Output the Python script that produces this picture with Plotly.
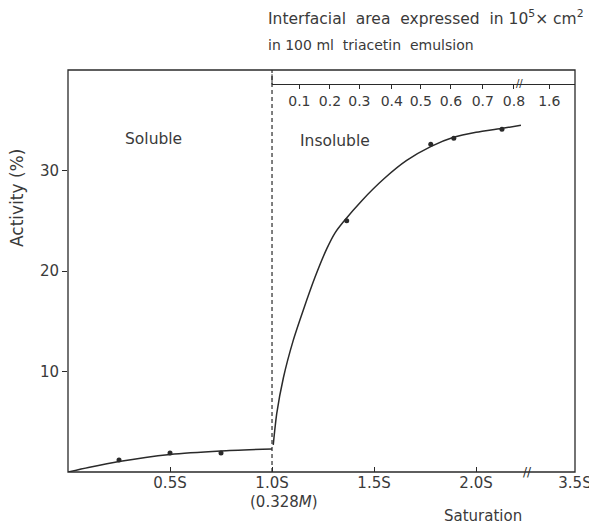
import plotly.graph_objects as go

# ---- data ----
# x positions are in units of saturation S; the axis is broken after 2.0S so that 3.5S sits at 2.485
sol_pts_x = [0.25, 0.5, 0.75]
sol_pts_y = [1.2, 1.9, 1.9]
ins_pts_x = [1.366, 1.778, 1.891, 2.127]
ins_pts_y = [25.0, 32.6, 33.2, 34.1]

sol_curve_x = [0.0, 0.1, 0.25, 0.5, 0.75, 1.0]
sol_curve_y = [0.0, 0.45, 1.05, 1.75, 2.1, 2.3]
ins_curve_x = [1.006, 1.023, 1.056, 1.104, 1.153, 1.211, 1.268, 1.309, 1.35, 1.44,
               1.55, 1.66, 1.78, 1.89, 2.0, 2.13, 2.22]
ins_curve_y = [2.7, 5.8, 9.4, 13.1, 16.1, 19.4, 22.2, 23.8, 24.9, 27.0,
               29.2, 31.0, 32.4, 33.3, 33.8, 34.2, 34.5]

x_tick_vals = [0.5, 1.0, 1.5, 2.0, 2.485]
x_tick_text = ["0.5S", "1.0S", "1.5S", "2.0S", "3.5S"]
y_tick_vals = [10, 20, 30]

top_tick_vals = [1.134, 1.284, 1.428, 1.587, 1.729, 1.877, 2.033, 2.186, 2.359]
top_tick_text = ["0.1", "0.2", "0.3", "0.4", "0.5", "0.6", "0.7", "0.8", "1.6"]

X_MAX = 2.485
Y_MAX = 40
SAT = 1.0          # saturation point (0.328 M)
BREAK_X = 2.25     # axis break on saturation axis
TOP_BREAK_X = 2.215

FONT = "DejaVu Sans"
INK = "#2a2a2a"
TXT = "#3a3a3a"

# plot area on screen in pixels: left 68, right 575, top 70, bottom 472
# (the page body adds an 8 px offset, so the figure itself is 8 px smaller)
H_PLOT = 402.0
W_PLOT = 507.0


def py(pix):
    return (472 - pix) / H_PLOT


def px(pix):
    return (pix - 68) / W_PLOT


fig = go.Figure()

fig.add_trace(go.Scatter(x=sol_curve_x, y=sol_curve_y, mode="lines",
                         line=dict(color=INK, width=1.5, shape="spline", smoothing=0.6),
                         hoverinfo="skip", showlegend=False))
fig.add_trace(go.Scatter(x=ins_curve_x, y=ins_curve_y, mode="lines",
                         line=dict(color=INK, width=1.5, shape="spline", smoothing=0.6),
                         hoverinfo="skip", showlegend=False))
fig.add_trace(go.Scatter(x=sol_pts_x + ins_pts_x, y=sol_pts_y + ins_pts_y, mode="markers",
                         marker=dict(color=INK, size=5),
                         hoverinfo="skip", showlegend=False))
# invisible trace to carry the top (interfacial area) scale
fig.add_trace(go.Scatter(x=[SAT, X_MAX], y=[None, None], xaxis="x2", yaxis="y",
                         mode="markers", hoverinfo="skip", showlegend=False))

# frame
fig.add_shape(type="rect", x0=0, x1=1, y0=0, y1=1, xref="paper", yref="paper",
              line=dict(color=INK, width=1.3), layer="above")

# dashed solubility limit
fig.add_shape(type="line", x0=SAT, x1=SAT, y0=0, y1=Y_MAX, xref="x", yref="y",
              line=dict(color=INK, width=1.2, dash="4px,3px"))

top_pos = py(84.3)
fig.add_shape(type="line", x0=SAT, x1=SAT, y0=top_pos, y1=top_pos + 0.025, xref="x", yref="paper",
              line=dict(color=INK, width=1))

# axis break marks
fig.add_annotation(x=BREAK_X, y=0, xref="x", yref="paper", text="//", showarrow=False,
                   yanchor="middle", font=dict(family=FONT, size=12, color=INK))
fig.add_annotation(x=TOP_BREAK_X, y=top_pos, xref="x", yref="paper", text="//", showarrow=False,
                   yanchor="middle", font=dict(family=FONT, size=10, color=INK), yshift=1)

# texts
fig.add_annotation(x=px(17), y=py(198), xref="paper", yref="paper", text="Activity (%)",
                   xanchor="center", yanchor="middle",
                   textangle=-90, showarrow=False, font=dict(family=FONT, size=17, color=TXT))
fig.add_annotation(x=px(153), y=py(139), xref="paper", yref="paper", text="Soluble", showarrow=False,
                   xanchor="center", yanchor="middle", font=dict(family=FONT, size=15.5, color=TXT))
fig.add_annotation(x=px(335), y=py(141), xref="paper", yref="paper", text="Insoluble", showarrow=False,
                   xanchor="center", yanchor="middle", font=dict(family=FONT, size=15.5, color=TXT))
fig.add_annotation(x=px(284), y=py(502), xref="paper", yref="paper", text="(0.328<i>M</i>)",
                   xanchor="center", yanchor="middle",
                   showarrow=False, font=dict(family=FONT, size=15, color=TXT))
fig.add_annotation(x=px(483), y=py(516), xref="paper", yref="paper", text="Saturation",
                   xanchor="center", yanchor="middle",
                   showarrow=False, font=dict(family=FONT, size=15, color=TXT))
fig.add_annotation(x=px(266), y=py(17), xref="paper", yref="paper", xanchor="left", yanchor="middle",
                   text="Interfacial  area  expressed  in 10<sup>5</sup>× cm<sup>2</sup>", showarrow=False,
                   font=dict(family=FONT, size=15.5, color=TXT))
fig.add_annotation(x=px(266), y=py(45), xref="paper", yref="paper", xanchor="left", yanchor="middle",
                   text="in 100 ml  triacetin  emulsion", showarrow=False,
                   font=dict(family=FONT, size=14, color=TXT))

fig.update_layout(
    width=589, height=517,
    margin=dict(l=60, r=22, t=62, b=53, autoexpand=False),
    paper_bgcolor="white", plot_bgcolor="rgba(0,0,0,0)",
    font=dict(family=FONT, color=TXT, size=14),
    xaxis=dict(range=[0, X_MAX], tickvals=x_tick_vals, ticktext=x_tick_text, automargin=False,
               ticks="inside", ticklen=5, tickcolor=INK, showline=False,
               showgrid=False, zeroline=False, tickfont=dict(size=15, color=TXT)),
    xaxis2=dict(range=[SAT, X_MAX], domain=[SAT / X_MAX, 1], anchor="free", position=top_pos,
                side="bottom", tickvals=top_tick_vals, ticktext=top_tick_text, automargin=False,
                ticks="outside", ticklen=4, tickcolor=INK, showline=True, linecolor=INK, linewidth=1.1,
                showgrid=False, zeroline=False, tickfont=dict(size=14, color=TXT)),
    yaxis=dict(range=[0, Y_MAX], tickvals=y_tick_vals, ticks="outside", ticklen=5, tickcolor=INK,
               showline=False, showgrid=False,
               zeroline=False, automargin=False, tickfont=dict(size=15, color=TXT)),
)

fig.write_html("out.html")
